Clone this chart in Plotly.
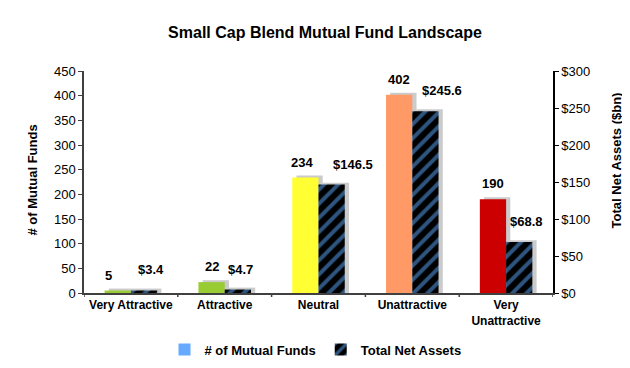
import plotly.graph_objects as go

categories = ["Very Attractive", "Attractive", "Neutral", "Unattractive", "Very<br>Unattractive"]
fund_counts = [5, 22, 234, 402, 190]
net_assets = [3.4, 4.7, 146.5, 245.6, 68.8]
fund_colors = ["#99CC33", "#99CC33", "#FFFF33", "#FF9966", "#CC0000"]
left_ticks = [0, 50, 100, 150, 200, 250, 300, 350, 400, 450]
right_ticks = [0, 50, 100, 150, 200, 250, 300]
right_tick_text = ["$" + str(v) for v in right_ticks]

FONT = "Liberation Sans, Arial, sans-serif"
W = 0.28
SH_DX = 0.045
SHADOW = "rgba(160,160,160,0.55)"

fig = go.Figure()

# shadows
fig.add_trace(go.Bar(x=list(range(5)), y=[v + 4 for v in fund_counts], width=W, offset=-W + SH_DX,
                     marker=dict(color=SHADOW, line=dict(width=0)), showlegend=False,
                     hoverinfo="skip", yaxis="y"))
fig.add_trace(go.Bar(x=list(range(5)), y=fund_counts, width=W, offset=-W,
                     marker=dict(color=fund_colors, line=dict(width=0)), showlegend=False,
                     name="# of Mutual Funds", yaxis="y"))
fig.add_trace(go.Bar(x=list(range(5)), y=[v + 2.6 for v in net_assets], width=W, offset=SH_DX,
                     marker=dict(color=SHADOW, line=dict(width=0)), showlegend=False,
                     hoverinfo="skip", yaxis="y2"))
fig.add_trace(go.Bar(x=[None], y=[None], name="<b># of Mutual Funds</b>",
                     marker=dict(color="#66AAFF", line=dict(width=0)), yaxis="y"))
fig.add_trace(go.Bar(x=list(range(5)), y=net_assets, width=W, offset=0, name="<b>Total Net Assets</b>",
                     marker=dict(color="black", line=dict(width=0),
                                 pattern=dict(shape="/", fgcolor="#5CAAFF", fillmode="overlay",
                                              size=10, solidity=0.4)),
                     yaxis="y2"))

L, R, T, B = 76, 85, 63, 74
PW, PH = 630 - L - R, 368 - T - B

annotations = []
fund_dx = [-9, 0, -3, 0, 0]
asset_dx = [7, 3, 21, 17, 7]
for i, v in enumerate(fund_counts):
    annotations.append(dict(x=i - W / 2, y=v, xref="x", yref="y", text=f"<b>{v}</b>",
                            showarrow=False, yanchor="bottom", yshift=6, xshift=fund_dx[i],
                            font=dict(family=FONT, size=13, color="black")))
for i, v in enumerate(net_assets):
    annotations.append(dict(x=i + W / 2, y=v, xref="x", yref="y2", text=f"<b>${v:.1f}</b>",
                            showarrow=False, yanchor="bottom", yshift=11, xshift=asset_dx[i],
                            font=dict(family=FONT, size=13, color="black")))
annotations.append(dict(x=(25 - L) / PW, y=(368 - B - 177) / PH, xref="paper", yref="paper",
                        xanchor="center", yanchor="middle", text="<b># of Mutual Funds</b>",
                        showarrow=False, textangle=-90, font=dict(family=FONT, size=13, color="black")))
annotations.append(dict(x=(608 - L) / PW, y=(368 - B - 156) / PH, xref="paper", yref="paper",
                        xanchor="center", yanchor="middle", text="<b>Total Net Assets ($bn)</b>",
                        showarrow=False, textangle=-90, font=dict(family=FONT, size=13, color="black")))

fig.update_layout(
    width=630, height=368,
    margin=dict(l=L, r=R, t=T, b=B),
    paper_bgcolor="white", plot_bgcolor="white",
    barmode="overlay",
    title=dict(text="<b>Small Cap Blend Mutual Fund Landscape</b>", x=317 / 630, xanchor="center",
               y=1 - 24 / 368, yanchor="middle", font=dict(family=FONT, size=16, color="black")),
    font=dict(family=FONT, size=13, color="black"),
    xaxis=dict(type="linear", range=[-0.5, 4.5], tickmode="array", tickvals=list(range(5)),
               ticktext=[f"<b>{c}</b>" for c in categories], showline=True, linecolor="#404040",
               linewidth=1.5, ticks="", showgrid=False, zeroline=False,
               tickfont=dict(family=FONT, size=12, color="black")),
    yaxis=dict(range=[0, 450], tickvals=left_ticks, showline=True, linecolor="#404040",
               linewidth=1.5, ticks="outside", ticklen=4, tickcolor="#404040", showgrid=False,
               zeroline=False, tickfont=dict(family=FONT, size=13, color="black")),
    yaxis2=dict(range=[0, 300], tickvals=right_ticks, ticktext=right_tick_text, overlaying="y",
                side="right", showline=True, linecolor="black", linewidth=1.5, ticks="outside",
                ticklen=4, tickcolor="black", showgrid=False, zeroline=False,
                tickfont=dict(family=FONT, size=13, color="black")),
    legend=dict(orientation="h", x=311 / 630, xanchor="center", y=-0.255, yanchor="middle",
                font=dict(family=FONT, size=13, color="black"), itemwidth=30,
                traceorder="normal", bgcolor="rgba(0,0,0,0)"),
    annotations=annotations,
    shapes=[dict(type="line", xref="x", yref="paper", x0=b, x1=b, y0=0, y1=-0.018,
                 line=dict(color="#404040", width=1.5)) for b in [-0.5, 0.5, 1.5, 2.5, 3.5, 4.5]],
    showlegend=True,
)

fig.write_html("out.html")
